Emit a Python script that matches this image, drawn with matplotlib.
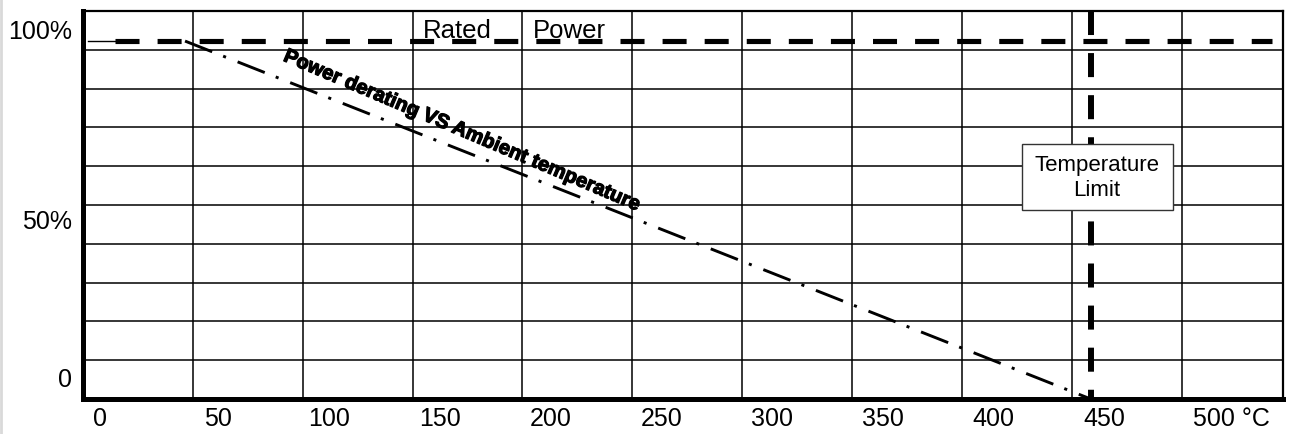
"""
Power derating vs ambient temperature chart (datasheet style grid).
"""
import numpy as np
import matplotlib
matplotlib.use("Agg")
import matplotlib.pyplot as plt
import matplotlib.patheffects as pe
from matplotlib.transforms import ScaledTranslation
from matplotlib.patches import Rectangle
from matplotlib.lines import Line2D

plt.rcParams['font.family'] = ['Liberation Sans', 'DejaVu Sans']
plt.rcParams['lines.scale_dashes'] = False

# data
x_ticks = [0, 50, 100, 150, 200, 250, 300, 350, 400, 450, 500]
x_tick_labels = ["0", "50", "100", "150", "200", "250", "300", "350", "400", "450", "500 °C"]
y_ticks = [0, 50, 100]
y_tick_labels = ["0", "50%", "100%"]
grid_x = [38.6, 88.3, 138.0, 187.2, 236.9, 286.6, 336.3, 386.0, 435.7, 485.4]

rated_temp = [3.4, 526.0]          # rated power dashed line span (°C)
rated_power = [100, 100]
derating_temp = [35, 444]          # derating line
derating_power = [100, 0]
temp_limit = 444                   # temperature limit (°C)

x_min, x_max = -11.3, 530.8
y_min, y_max = 0, 108.4


def plot_derating():
    fig = plt.figure(figsize=(12.91, 4.35), dpi=100)
    ax = fig.add_axes([82.5 / 1291, 35 / 435, (1283 - 82.5) / 1291, 388 / 435])
    ax.set_xlim(x_min, x_max)
    ax.set_ylim(y_min, y_max)

    # grid
    for gx in grid_x:
        ax.axvline(gx, color="black", lw=1.1, zorder=1)
    for gy in np.linspace(y_min, y_max, 11)[1:-1]:
        ax.axhline(gy, color="black", lw=1.1, zorder=1)

    # rated power
    ax.plot([-8.8, rated_temp[0]], rated_power, color="black", lw=1.0, zorder=3)
    ax.plot(rated_temp, rated_power, color="black", lw=3.7,
            dashes=(17.3, 13.0), solid_capstyle="butt", dash_capstyle="butt", zorder=3)
    ax.text(157.8, 101.1, "Rated", fontsize=18.5, ha="center", va="baseline", zorder=4)
    ax.text(208.4, 101.1, "Power", fontsize=18.5, ha="center", va="baseline", zorder=4)

    # derating curve
    ax.plot(derating_temp, derating_power, color="black", lw=2.1,
            dashes=(21.0, 8.5, 2.2, 9.0), dash_capstyle="butt", zorder=3)
    ax.text(160, 75, "Power derating VS Ambient temperature",
            fontsize=14.5, fontweight="bold", rotation=-23, rotation_mode="anchor",
            ha="center", va="center", zorder=4,
            path_effects=[pe.withStroke(linewidth=0.9, foreground="black")])

    # temperature limit
    ax.plot([temp_limit, temp_limit], [y_max, 0], color="black", lw=4.3,
            dashes=(17.3, 13.0), dash_capstyle="butt", zorder=3)
    ax.add_patch(Rectangle((413, 52.8), 68.1, 18.4, facecolor="white",
                           edgecolor="#333333", lw=1.0, zorder=5))
    ax.text(446.8, 62, "Temperature\nLimit", fontsize=16, ha="center", va="center",
            linespacing=1.2, zorder=6)

    # axes frame
    ax.spines["left"].set_linewidth(3.6)
    ax.spines["bottom"].set_linewidth(3.6)
    ax.spines["top"].set_linewidth(1.6)
    ax.spines["right"].set_linewidth(1.6)
    for s in ax.spines.values():
        s.set_zorder(7)

    ax.tick_params(axis="both", length=0, labelsize=18)
    ax.tick_params(axis="x", pad=5)
    ax.tick_params(axis="y", pad=7.5)
    ax.set_xticks(x_ticks, x_tick_labels)
    ax.set_yticks(y_ticks, y_tick_labels)

    # nudge labels to where the drawing has them
    y_shift = [22, 1.5, 13]
    for lab, dy in zip(ax.get_yticklabels(), y_shift):
        lab.set_transform(lab.get_transform() + ScaledTranslation(0, dy / 100, fig.dpi_scale_trans))
    last = ax.get_xticklabels()[-1]
    last.set_transform(last.get_transform() + ScaledTranslation(17 / 100, 0, fig.dpi_scale_trans))
    first = ax.get_xticklabels()[0]
    first.set_transform(first.get_transform() + ScaledTranslation(-8 / 100, 0, fig.dpi_scale_trans))

    fig.add_artist(Line2D([0.001, 0.001], [0, 1], color="#d9d9d9", lw=2.0))
    fig.savefig("out.png", dpi=100)


plot_derating()
